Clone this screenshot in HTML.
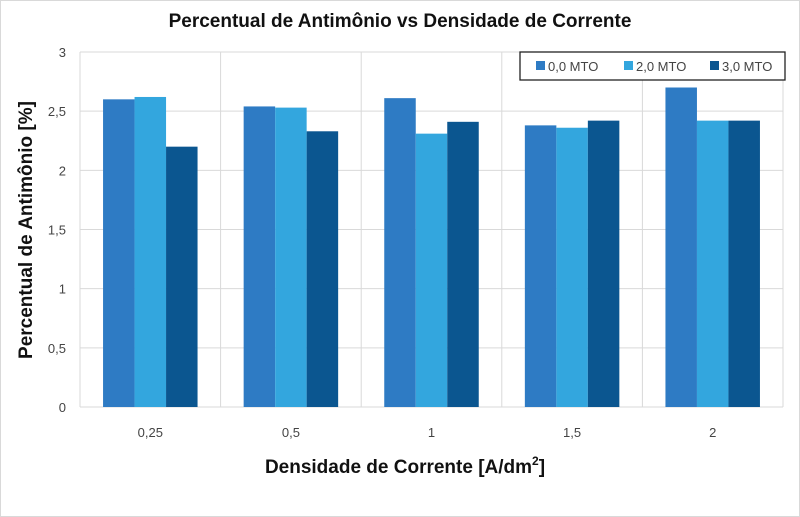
<!DOCTYPE html>
<html><head><meta charset="utf-8"><style>
body{margin:0;background:#fff;}
svg{display:block;font-family:"Liberation Sans",sans-serif;}
</style></head><body>
<svg id="c" width="800" height="517" viewBox="0 0 800 517">
<rect x="0.5" y="0.5" width="799" height="516" fill="#fff" stroke="#d9d9d9"/>
<text x="400" y="27" text-anchor="middle" font-size="19" font-weight="bold" fill="#111">Percentual de Antimônio vs Densidade de Corrente</text>
<g id="grid"></g><g id="bars"></g><g id="ticks"></g>
<text transform="translate(32,230) rotate(-90)" text-anchor="middle" font-size="19" font-weight="bold" fill="#111">Percentual de Antimônio [%]</text>
<text x="405" y="473" text-anchor="middle" font-size="19" font-weight="bold" fill="#111">Densidade de Corrente [A/dm<tspan dy="-8" font-size="12">2</tspan><tspan dy="8">]</tspan></text>
<g id="legend">
<rect x="520" y="52" width="265" height="28" fill="#fff" stroke="#222" stroke-width="1.3"/>
</g>
</svg>
<script>
const categories=["0,25","0,5","1","1,5","2"];
const seriesNames=["0,0 MTO","2,0 MTO","3,0 MTO"];
const s0=[2.6,2.54,2.61,2.38,2.7];
const s1=[2.62,2.53,2.31,2.36,2.42];
const s2=[2.2,2.33,2.41,2.42,2.42];
const yTicks=[0,0.5,1,1.5,2,2.5,3];
const yTickLabels=["0","0,5","1","1,5","2","2,5","3"];
const colors=["#2e7bc4","#33a6de","#0b5690"];
const NS="http://www.w3.org/2000/svg";
const X0=80,X1=783,Y0=407,Y1=52;
const y=v=>Y0-(v/3)*(Y0-Y1);
const cw=(X1-X0)/categories.length;
const xc=i=>X0+cw*i;
function mk(t,a,p){const e=document.createElementNS(NS,t);for(const k in a)e.setAttribute(k,a[k]);p.appendChild(e);return e;}
const grid=document.getElementById('grid'),bars=document.getElementById('bars'),ticks=document.getElementById('ticks'),leg=document.getElementById('legend');
yTicks.forEach((v,i)=>{
 const l=mk('line',{x1:X0,x2:X1,y1:y(v),y2:y(v),stroke:'#d9d9d9'},grid);
 
 
 const t=mk('text',{x:X0-14,y:y(v)+5,'text-anchor':'end','font-size':13,fill:'#444'},ticks);
 t.textContent=yTickLabels[i];
 
 
});
for(let i=0;i<=categories.length;i++){
 const l=mk('line',{x1:xc(i),x2:xc(i),y1:Y1,y2:Y0,stroke:'#d9d9d9'},grid);
 
 
}
const series=[s0,s1,s2];const bw=31.5;
categories.forEach((c,i)=>{
 const start=xc(i)+cw/2-bw*1.5;
 series.forEach((s,j)=>{
  const r=mk('rect',{x:start+j*bw,y:y(s[i]),width:bw,height:Y0-y(s[i]),fill:colors[j]},bars);
  
  
 });
 const t=mk('text',{x:xc(i)+cw/2,y:Y0+30,'text-anchor':'middle','font-size':13,fill:'#444'},ticks);
 t.textContent=c;
 
 
});
const lx=[536,624,710];
seriesNames.forEach((n,j)=>{
 const r=mk('rect',{x:lx[j],y:61,width:9,height:9,fill:colors[j]},leg);
 
 
 const t=mk('text',{x:lx[j]+12,y:71,'font-size':13,fill:'#444'},leg);
 t.textContent=n;
 
 
});
</script>
</body></html>
